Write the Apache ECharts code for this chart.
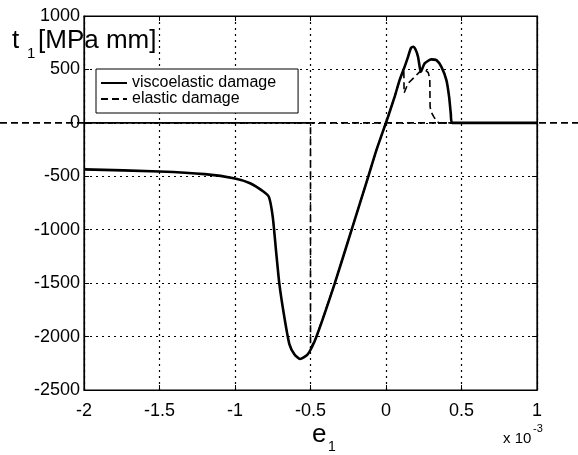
<!DOCTYPE html>
<html>
<head>
<meta charset="utf-8">
<script src="https://cdn.jsdelivr.net/npm/echarts@6/dist/echarts.min.js"></script>
<style>
  html, body { margin: 0; padding: 0; background: #fff; }
  #chart { width: 578px; height: 455px; }
</style>
</head>
<body>
<div id="chart"></div>
<script>
// x-axis ticks (e1, x 10^-3) and y-axis ticks (t1, MPa mm)
var xTicks = [-2, -1.5, -1, -0.5, 0, 0.5, 1];
var yTicks = [-2500, -2000, -1500, -1000, -500, 0, 500, 1000];

// viscoelastic damage (solid)
var viscoE = [-2, -1.5, -1.2, -1.0, -0.9, -0.81, -0.775, -0.75, -0.728, -0.706, -0.673, -0.64, -0.607, -0.569, -0.518, -0.463,
  -0.341, -0.23, -0.119, -0.064, 0.013, 0.057, 0.09, 0.123, 0.146, 0.165, 0.18, 0.198, 0.212, 0.223, 0.23,
  0.256, 0.3, 0.334, 0.367, 0.4, 0.418, 0.429, 0.438, 1];
var viscoT = [-435, -455, -480, -520, -565, -645, -695, -880, -1200, -1510, -1820, -2070, -2165, -2210, -2165, -2010,
  -1510, -1010, -510, -257, 55, 243, 400, 524, 618, 700, 712, 680, 618, 524, 477,
  556, 594, 587, 524, 400, 243, 87, 0, 0];

// elastic damage (dashed)
var elasticE = [-2, -0.5, -0.5, -0.463, -0.341, -0.23, -0.119, -0.064, 0.013, 0.057, 0.09, 0.118, 0.12, 0.146, 0.19,
  0.223, 0.26, 0.28, 0.29, 0.292, 0.3, 0.315, 0.335, 0.35, 1];
var elasticT = [0, 0, -2110, -2010, -1510, -1010, -510, -257, 55, 243, 400, 500, 280, 369, 430,
  477, 495, 470, 410, 150, 100, 60, 15, 0, 0];

function pairs(xs, ys) {
  var out = [];
  for (var i = 0; i < xs.length; i++) out.push([xs[i], ys[i]]);
  return out;
}

var font = 'Liberation Sans, Arial, sans-serif';
var chart = echarts.init(document.getElementById('chart'));

var option = {
  animation: false,
  backgroundColor: '#fff',
  grid: { left: 84, right: 41, top: 16, bottom: 65, show: true, borderColor: '#000', borderWidth: 1.2 },
  legend: {
    left: 96, top: 69,
    orient: 'vertical',
    icon: 'inherit',
    itemStyle: { opacity: 0 },
    backgroundColor: '#fff',
    borderColor: '#000', borderWidth: 1,
    padding: [6, 22, 6, 4],
    itemGap: 0,
    itemWidth: 26, itemHeight: 12,
    textStyle: { fontFamily: font, fontSize: 16, color: '#000', lineHeight: 14 },
    data: ['viscoelastic damage', 'elastic damage']
  },
  xAxis: [{
    type: 'value', min: -2, max: 1, interval: 0.5,
    axisLine: { onZero: false, lineStyle: { color: '#000', width: 1.2 } },
    axisTick: { inside: true, length: 5, lineStyle: { color: '#000' } },
    axisLabel: { color: '#000', fontFamily: font, fontSize: 18, margin: 12,
      formatter: function (v) { return xTicks.indexOf(v) >= 0 ? String(v) : ''; } },
    splitLine: { show: true, lineStyle: { color: '#000', type: [2, 4], width: 1.2 } }
  }, {
    type: 'value', min: -2, max: 1, interval: 0.5, position: 'top',
    axisLine: { show: true, onZero: false, lineStyle: { color: '#000', width: 1.2 } },
    axisTick: { inside: true, length: 5, lineStyle: { color: '#000' } },
    axisLabel: { show: false }, splitLine: { show: false }
  }],
  yAxis: [{
    type: 'value', min: -2500, max: 1000, interval: 500,
    axisLine: { show: true, onZero: false, lineStyle: { color: '#000', width: 1.2 } },
    axisTick: { show: true, inside: true, length: 5, lineStyle: { color: '#000' } },
    axisLabel: { color: '#000', fontFamily: font, fontSize: 18, margin: 4,
      formatter: function (v) { return yTicks.indexOf(v) >= 0 ? String(v) : ''; } },
    splitLine: { show: true, lineStyle: { color: '#000', type: [2, 4], width: 1.2 } }
  }, {
    type: 'value', min: -2500, max: 1000, interval: 500, position: 'right',
    axisLine: { show: true, onZero: false, lineStyle: { color: '#000', width: 1.2 } },
    axisTick: { show: true, inside: true, length: 5, lineStyle: { color: '#000' } },
    axisLabel: { show: false }, splitLine: { show: false }
  }],
  series: [{
    name: 'elastic damage',
    type: 'line',
    data: pairs(elasticE, elasticT),
    symbol: 'none',
    z: 3,
    itemStyle: { color: '#000' },
    lineStyle: { color: '#000', width: 1.6, type: [7, 4] }
  }, {
    name: 'viscoelastic damage',
    type: 'line',
    data: pairs(viscoE, viscoT),
    symbol: 'none',
    smooth: 0.2,
    z: 4,
    itemStyle: { color: '#000' },
    lineStyle: { color: '#000', width: 2.6 }
  }]
};
chart.setOption(option);

// dashed zero line running across the whole figure, plus axis titles
var zeroY = chart.convertToPixel({ gridIndex: 0 }, [0, 0])[1];
chart.setOption({
  graphic: [
    { type: 'line', z: 2, silent: true,
      shape: { x1: 0, y1: zeroY, x2: 578, y2: zeroY },
      style: { stroke: '#000', lineWidth: 1.6, lineDash: [7, 4] } },
    { type: 'text', left: 12, top: 28, z: 10,
      style: { text: 't', fontFamily: font, fontSize: 26, fill: '#000' } },
    { type: 'text', left: 27, top: 46, z: 10,
      style: { text: '1', fontFamily: font, fontSize: 15, fill: '#000' } },
    { type: 'text', left: 38, top: 28, z: 10,
      style: { text: '[MPa mm]', fontFamily: font, fontSize: 26, fill: '#000' } },
    { type: 'text', left: 312, top: 422, z: 10,
      style: { text: 'e', fontFamily: font, fontSize: 26, fill: '#000' } },
    { type: 'text', left: 328, top: 440, z: 10,
      style: { text: '1', fontFamily: font, fontSize: 14, fill: '#000' } },
    { type: 'text', left: 503, top: 431, z: 10,
      style: { text: 'x 10', fontFamily: font, fontSize: 15, fill: '#000' } },
    { type: 'text', left: 533, top: 423, z: 10,
      style: { text: '-3', fontFamily: font, fontSize: 11, fill: '#000' } }
  ]
});
</script>
</body>
</html>
